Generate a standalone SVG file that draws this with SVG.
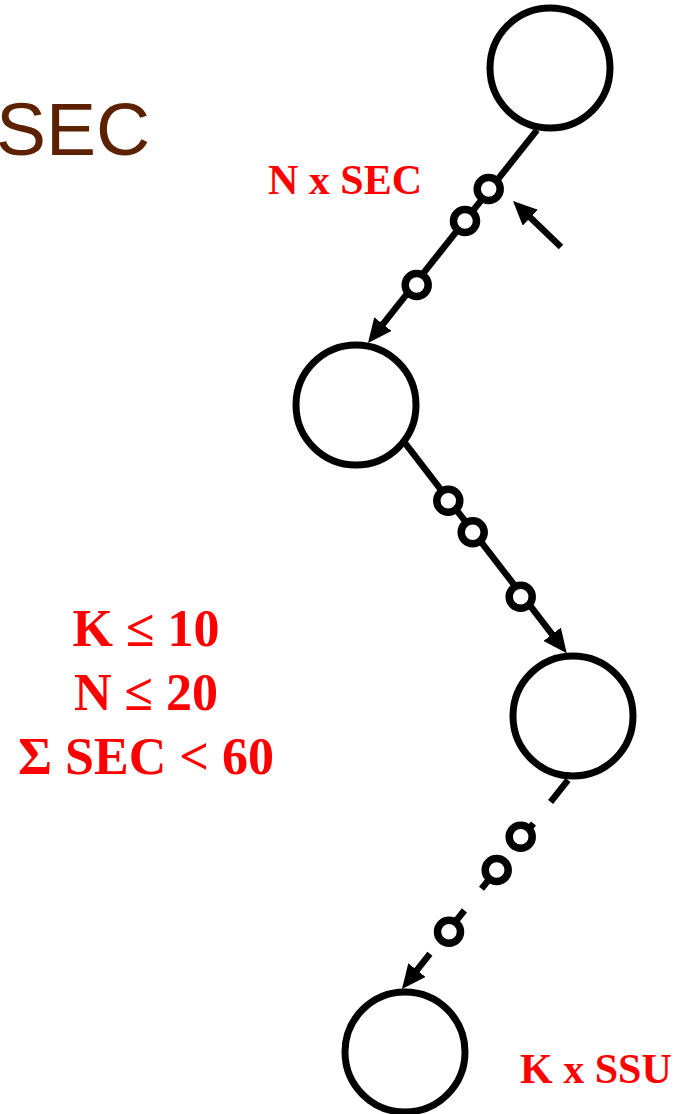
<svg xmlns="http://www.w3.org/2000/svg" width="688" height="1114" viewBox="0 0 688 1114">
  <style>
    .node { fill: #ffffff; stroke: #000000; stroke-width: 7; }
    .bead { fill: #ffffff; stroke: #000000; stroke-width: 7.5; }
    .edge { fill: none; stroke: #000000; stroke-width: 6.5; }
    .red { fill: #ff0000; font-family: "Liberation Serif", "Times New Roman", serif; font-weight: bold; }
  </style>
  <defs>
    <marker id="arrow" markerUnits="userSpaceOnUse" markerWidth="24" markerHeight="22" viewBox="0 0 24 22" refX="10" refY="11" orient="auto">
      <path d="M0,0 L24,11 L0,22 Z" fill="#000000"/>
    </marker>
  </defs>
  <rect width="688" height="1114" fill="#ffffff"/>

  <text x="-4" y="155" font-family="Liberation Sans, Arial, sans-serif" font-size="75" fill="#5c2200">SEC</text>

  <g id="connectors">
    <line class="edge" x1="537" y1="130" x2="376.7" y2="332" marker-end="url(#arrow)"/>
    <line class="edge" x1="405" y1="443" x2="558.2" y2="642.2" marker-end="url(#arrow)"/>
    <line class="edge" x1="568" y1="780" x2="410.7" y2="978" stroke-dasharray="28 27.5" marker-end="url(#arrow)"/>
    <line class="edge" x1="561" y1="247" x2="523.1" y2="210.7" marker-end="url(#arrow)"/>
    <circle class="bead" cx="488.7" cy="189" r="11.5"/>
    <circle class="bead" cx="465" cy="221" r="11.5"/>
    <circle class="bead" cx="416.7" cy="285" r="11.5"/>
    <circle class="bead" cx="448.3" cy="500.7" r="11.5"/>
    <circle class="bead" cx="472.7" cy="532.3" r="11.5"/>
    <circle class="bead" cx="520.7" cy="596.7" r="11.5"/>
    <circle class="bead" cx="520.7" cy="836.7" r="11.5"/>
    <circle class="bead" cx="496.7" cy="870" r="11.5"/>
    <circle class="bead" cx="449" cy="931.7" r="11.5"/>
  </g>

  <g id="node1"><circle class="node" cx="550" cy="68" r="60"/></g>
  <g id="node2"><circle class="node" cx="356" cy="405" r="60"/></g>
  <g id="node3"><circle class="node" cx="573" cy="716" r="60"/></g>
  <g id="node4"><circle class="node" cx="405" cy="1052" r="60"/></g>

  <text class="red" x="268" y="194" font-size="42">N x SEC</text>
  <text class="red" x="520" y="1083" font-size="42">K x SSU</text>
  <g class="red" font-size="52" text-anchor="middle">
    <text x="146" y="646">K ≤ 10</text>
    <text x="146" y="710">N ≤ 20</text>
    <text x="146" y="774">Σ SEC &lt; 60</text>
  </g>
</svg>
